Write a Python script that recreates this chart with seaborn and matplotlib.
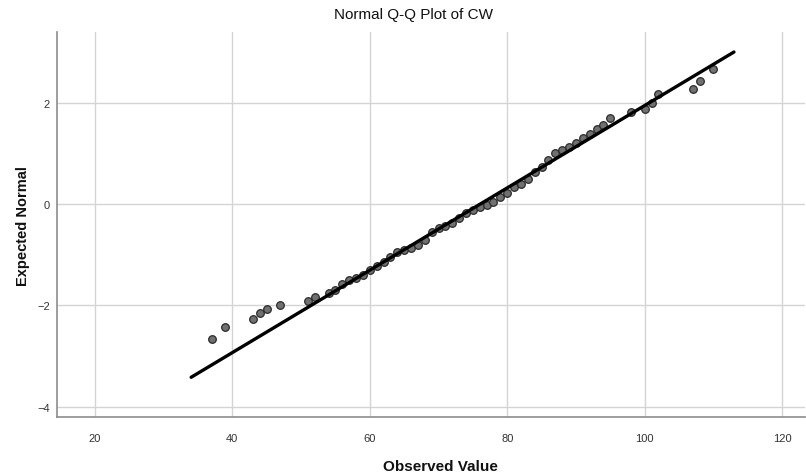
import numpy as np
import pandas as pd
import matplotlib
matplotlib.use("Agg")
import matplotlib.pyplot as plt
import seaborn as sns

observed = [37, 39, 43, 44, 45, 47, 51, 52, 54, 55, 56, 57, 58, 59, 60, 61, 62, 63,
            64, 65, 66, 67, 68, 69, 70, 71, 72, 73, 74, 75, 76, 77, 78, 79, 80, 81,
            82, 83, 84, 85, 86, 87, 88, 89, 90, 91, 92, 93, 94, 95, 98, 100, 101,
            102, 107, 108, 110]
expected = [-2.66, -2.42, -2.26, -2.15, -2.07, -1.99, -1.92, -1.84, -1.76, -1.69,
            -1.58, -1.49, -1.45, -1.40, -1.30, -1.22, -1.14, -1.05, -0.95, -0.90,
            -0.86, -0.80, -0.71, -0.55, -0.47, -0.43, -0.37, -0.28, -0.18, -0.11,
            -0.05, -0.02, 0.05, 0.14, 0.22, 0.33, 0.40, 0.50, 0.64, 0.73, 0.88,
            1.00, 1.06, 1.12, 1.21, 1.30, 1.39, 1.48, 1.57, 1.70, 1.82, 1.87, 2.00,
            2.17, 2.28, 2.43, 2.67]

# Reference normal line parameters
line_x = [34, 113]
line_mean = 76.06
line_sd = 12.30

x_ticks = [20, 40, 60, 80, 100, 120]
y_ticks = [-4, -2, 0, 2]

title = "Normal Q-Q Plot of CW"
xlabel = "Observed Value"
ylabel = "Expected Normal"

sns.set_theme(style="whitegrid")
plt.rcParams['font.family'] = ['Liberation Sans', 'DejaVu Sans']

df = pd.DataFrame({"obs": observed, "exp": expected})
line_df = pd.DataFrame({"x": line_x,
                        "y": [(v - line_mean) / line_sd for v in line_x]})

fig = plt.figure(figsize=(8.06, 4.77), dpi=100)
ax = fig.add_axes([0.0703, 0.123, 0.929, 0.808])

sns.scatterplot(data=df, x="obs", y="exp", ax=ax, s=30, color="#707070",
                edgecolor="#2a2a2a", linewidth=0.9, zorder=3)
sns.lineplot(data=line_df, x="x", y="y", ax=ax, color="black", linewidth=2.4,
             zorder=4)

ax.set_xlim(14.43, 123.4)
ax.set_ylim(-4.21, 3.40)
ax.set_xticks(x_ticks)
ax.set_yticks(y_ticks)
ax.grid(True, color="#d4d4d4", linewidth=1.0)
ax.set_facecolor("white")
for side in ["top", "right"]:
    ax.spines[side].set_visible(False)
for side in ["left", "bottom"]:
    ax.spines[side].set_color("#8c8c8c")
    ax.spines[side].set_linewidth(1.2)
ax.tick_params(axis="x", length=0, pad=11, labelsize=8, labelcolor="#333333")
ax.tick_params(axis="y", length=0, pad=5, labelsize=8, labelcolor="#333333")

ax.set_title(title, fontsize=11, pad=10, color="#111111", x=0.476)
ax.set_xlabel(xlabel, fontsize=11, fontweight="bold", labelpad=12, color="#111111")
ax.xaxis.label.set_x(0.513)
ax.set_ylabel(ylabel, fontsize=10.5, fontweight="bold", labelpad=5, color="#111111")

fig.savefig("out.png", dpi=100, facecolor="white")
